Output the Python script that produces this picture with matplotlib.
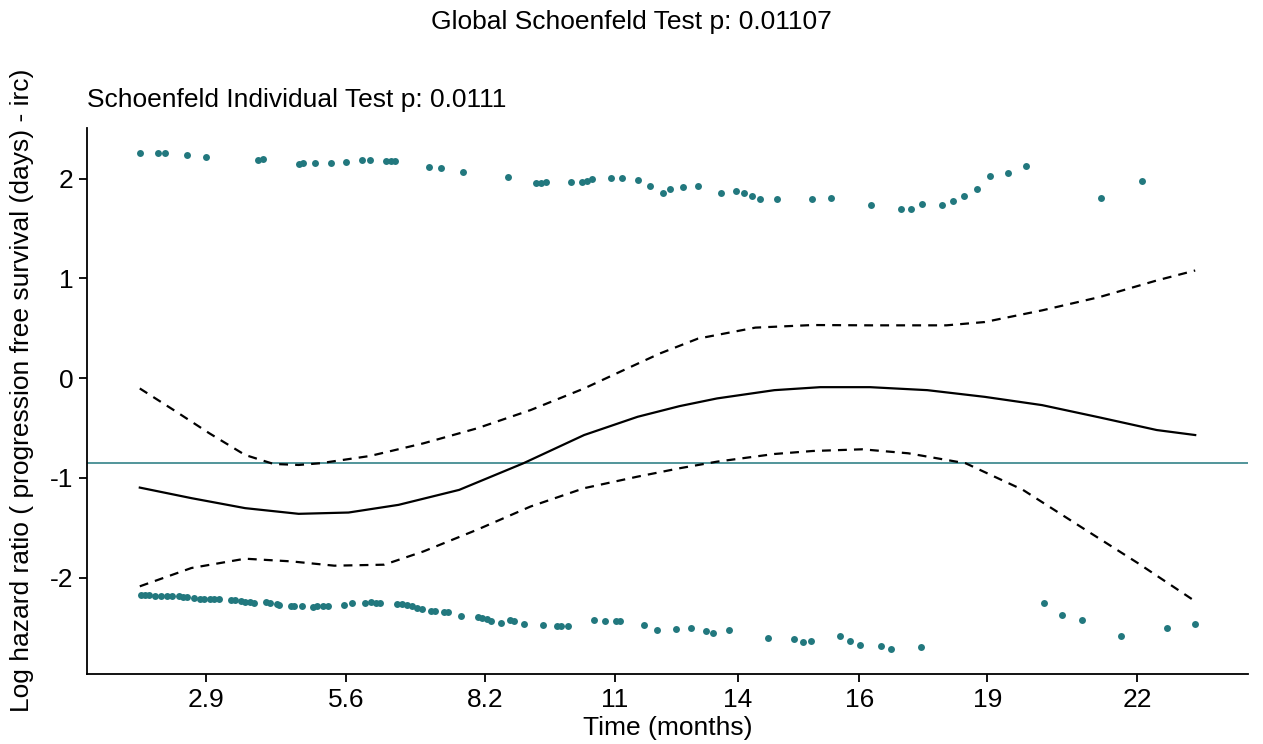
import matplotlib
matplotlib.use("Agg")
import matplotlib.pyplot as plt

plt.rcParams["font.family"] = ["Liberation Sans", "DejaVu Sans"]

# x is the km-transformed time (0..1), labels are back-transformed months
tick_pos = [0.0629, 0.1954, 0.3270, 0.4500, 0.5664, 0.6819, 0.8031, 0.9451]
tick_labels = ["2.9", "5.6", "8.2", "11", "14", "16", "19", "22"]

resid_top_x = [0.000, 0.0175, 0.0237, 0.0448, 0.0623, 0.1118, 0.1165, 0.1511,
               0.1548, 0.1664, 0.1810, 0.1956, 0.2108, 0.2185, 0.2337, 0.2378,
               0.2414, 0.2741, 0.2858, 0.3066, 0.3488, 0.3750, 0.3804, 0.3852,
               0.4086, 0.4187, 0.4242, 0.4282, 0.4461, 0.4569, 0.4724, 0.4836,
               0.4955, 0.5020, 0.5151, 0.5291, 0.5509, 0.5649, 0.5725, 0.5801,
               0.5877, 0.6039, 0.6366, 0.6546, 0.6928, 0.7210, 0.7311, 0.7410,
               0.7605, 0.7709, 0.7812, 0.7928, 0.8056, 0.8227, 0.8394, 0.9103,
               0.9497]
resid_top_y = [2.260, 2.257, 2.257, 2.234, 2.218, 2.191, 2.195, 2.152,
               2.159, 2.159, 2.159, 2.169, 2.191, 2.185, 2.178, 2.182,
               2.178, 2.116, 2.103, 2.064, 2.021, 1.959, 1.962, 1.965,
               1.969, 1.965, 1.978, 1.995, 2.007, 2.007, 1.987, 1.927,
               1.853, 1.897, 1.920, 1.923, 1.857, 1.880, 1.860, 1.823,
               1.800, 1.797, 1.800, 1.803, 1.733, 1.693, 1.700, 1.747,
               1.737, 1.780, 1.827, 1.897, 2.023, 2.057, 2.123, 1.810,
               1.973]

resid_bot_x = [0.0015, 0.0052, 0.0088, 0.0142, 0.0197, 0.0262, 0.0305, 0.0370,
               0.0414, 0.0451, 0.0515, 0.0566, 0.0613, 0.0661, 0.0703, 0.0747,
               0.0867, 0.0903, 0.0957, 0.1001, 0.1048, 0.1084, 0.1193, 0.1229,
               0.1302, 0.1320, 0.1428, 0.1464, 0.1537, 0.1645, 0.1682, 0.1736,
               0.1783, 0.1936, 0.2015, 0.2135, 0.2190, 0.2236, 0.2279, 0.2436,
               0.2486, 0.2533, 0.2580, 0.2624, 0.2678, 0.2761, 0.2797, 0.2878,
               0.2921, 0.3041, 0.3203, 0.3239, 0.3294, 0.3330, 0.3421, 0.3511,
               0.3548, 0.3638, 0.3820, 0.3957, 0.3993, 0.4054, 0.4308, 0.4406,
               0.4508, 0.4551, 0.4777, 0.4896, 0.5083, 0.5222, 0.5363, 0.5430,
               0.5581, 0.5952, 0.6199, 0.6286, 0.6362, 0.6637, 0.6728, 0.6824,
               0.7020, 0.7116, 0.7406, 0.8570, 0.8741, 0.8928, 0.9299, 0.9737,
               1.0000]
resid_bot_y = [-2.170, -2.173, -2.177, -2.180, -2.180, -2.183, -2.183, -2.187,
               -2.193, -2.197, -2.207, -2.210, -2.213, -2.213, -2.213, -2.217,
               -2.220, -2.223, -2.230, -2.240, -2.243, -2.253, -2.247, -2.257,
               -2.267, -2.277, -2.283, -2.283, -2.283, -2.290, -2.283, -2.280,
               -2.280, -2.277, -2.250, -2.253, -2.247, -2.250, -2.250, -2.260,
               -2.263, -2.273, -2.287, -2.300, -2.317, -2.333, -2.337, -2.340,
               -2.343, -2.387, -2.393, -2.403, -2.417, -2.433, -2.453, -2.420,
               -2.433, -2.463, -2.477, -2.487, -2.480, -2.480, -2.423, -2.433,
               -2.433, -2.433, -2.477, -2.520, -2.517, -2.503, -2.537, -2.560,
               -2.523, -2.607, -2.617, -2.650, -2.637, -2.590, -2.633, -2.680,
               -2.690, -2.717, -2.697, -2.253, -2.373, -2.420, -2.587, -2.503,
               -2.467]

fit_x = [0.000, 0.0490, 0.0998, 0.1505, 0.1978, 0.2452, 0.3026, 0.3635,
         0.4210, 0.4717, 0.5115, 0.5469, 0.6013, 0.6447, 0.6919, 0.7462,
         0.8005, 0.8549, 0.9092, 0.9636, 1.000]
fit_y = [-1.097, -1.203, -1.303, -1.360, -1.347, -1.270, -1.120, -0.853,
         -0.570, -0.387, -0.280, -0.203, -0.120, -0.090, -0.090, -0.120,
         -0.187, -0.270, -0.393, -0.520, -0.570]

upper_x = [0.000, 0.0322, 0.0660, 0.0998, 0.1268, 0.1505, 0.1708, 0.2181,
           0.2688, 0.3195, 0.3702, 0.4210, 0.4548, 0.4926, 0.5289, 0.5832,
           0.6375, 0.6919, 0.7643, 0.8005, 0.8549, 0.9092, 0.9636, 1.000]
upper_y = [-0.103, -0.320, -0.553, -0.770, -0.860, -0.870, -0.853, -0.780,
           -0.653, -0.503, -0.320, -0.103, 0.063, 0.247, 0.397, 0.507,
           0.533, 0.530, 0.530, 0.563, 0.680, 0.813, 0.980, 1.080]

lower_x = [0.000, 0.0490, 0.0998, 0.1437, 0.1843, 0.2316, 0.2688, 0.3195,
           0.3702, 0.4210, 0.4717, 0.5115, 0.5469, 0.6013, 0.6375, 0.6846,
           0.7281, 0.7825, 0.8368, 0.8911, 0.9455, 1.000]
lower_y = [-2.087, -1.903, -1.810, -1.837, -1.880, -1.870, -1.737, -1.520,
           -1.287, -1.103, -0.987, -0.903, -0.837, -0.760, -0.730, -0.713,
           -0.753, -0.853, -1.120, -1.487, -1.853, -2.237]

coef = -0.85
point_col = "#22787e"

fig = plt.figure(figsize=(12.63, 7.44), dpi=100)
ax = fig.add_axes([0.0689, 0.0941, 0.9192, 0.7339])

ax.scatter(resid_top_x, resid_top_y, s=25, color=point_col, linewidths=0, zorder=3)
ax.scatter(resid_bot_x, resid_bot_y, s=25, color=point_col, linewidths=0, zorder=3)
ax.axhline(coef, color=point_col, lw=1.1, zorder=1)
ax.plot(fit_x, fit_y, color="black", lw=1.6, zorder=2,
        solid_joinstyle="round")
ax.plot(upper_x, upper_y, color="black", lw=1.6, ls=(0, (4, 3.2)), zorder=2)
ax.plot(lower_x, lower_y, color="black", lw=1.6, ls=(0, (4, 3.2)), zorder=2)

ax.set_xlim(-0.05, 1.05)
ax.set_ylim(-2.966, 2.509)
ax.set_xticks(tick_pos)
ax.set_xticklabels(tick_labels)
ax.set_yticks([-2, -1, 0, 1, 2])
ax.set_yticklabels(["-2", "-1", "0", "1", "2"])

for side in ["top", "right"]:
    ax.spines[side].set_visible(False)
for side in ["left", "bottom"]:
    ax.spines[side].set_linewidth(1.3)
ax.tick_params(axis="both", length=6, width=1.3, labelsize=19, pad=4, colors="black")

ax.set_xlabel("Time (months)", fontsize=19, labelpad=3)
fig.text(22 / 1263, 0.476, "Log hazard ratio ( progression free survival (days) - irc)",
         rotation=90, ha="center", va="center", fontsize=19)
fig.text(87 / 1263, 1 - 100 / 744, "Schoenfeld Individual Test p: 0.0111",
         ha="left", va="center", fontsize=19)
fig.text(0.5, 1 - 22 / 744, "Global Schoenfeld Test p: 0.01107",
         ha="center", va="center", fontsize=19)

fig.savefig("out.png", dpi=100)
plt.close(fig)
